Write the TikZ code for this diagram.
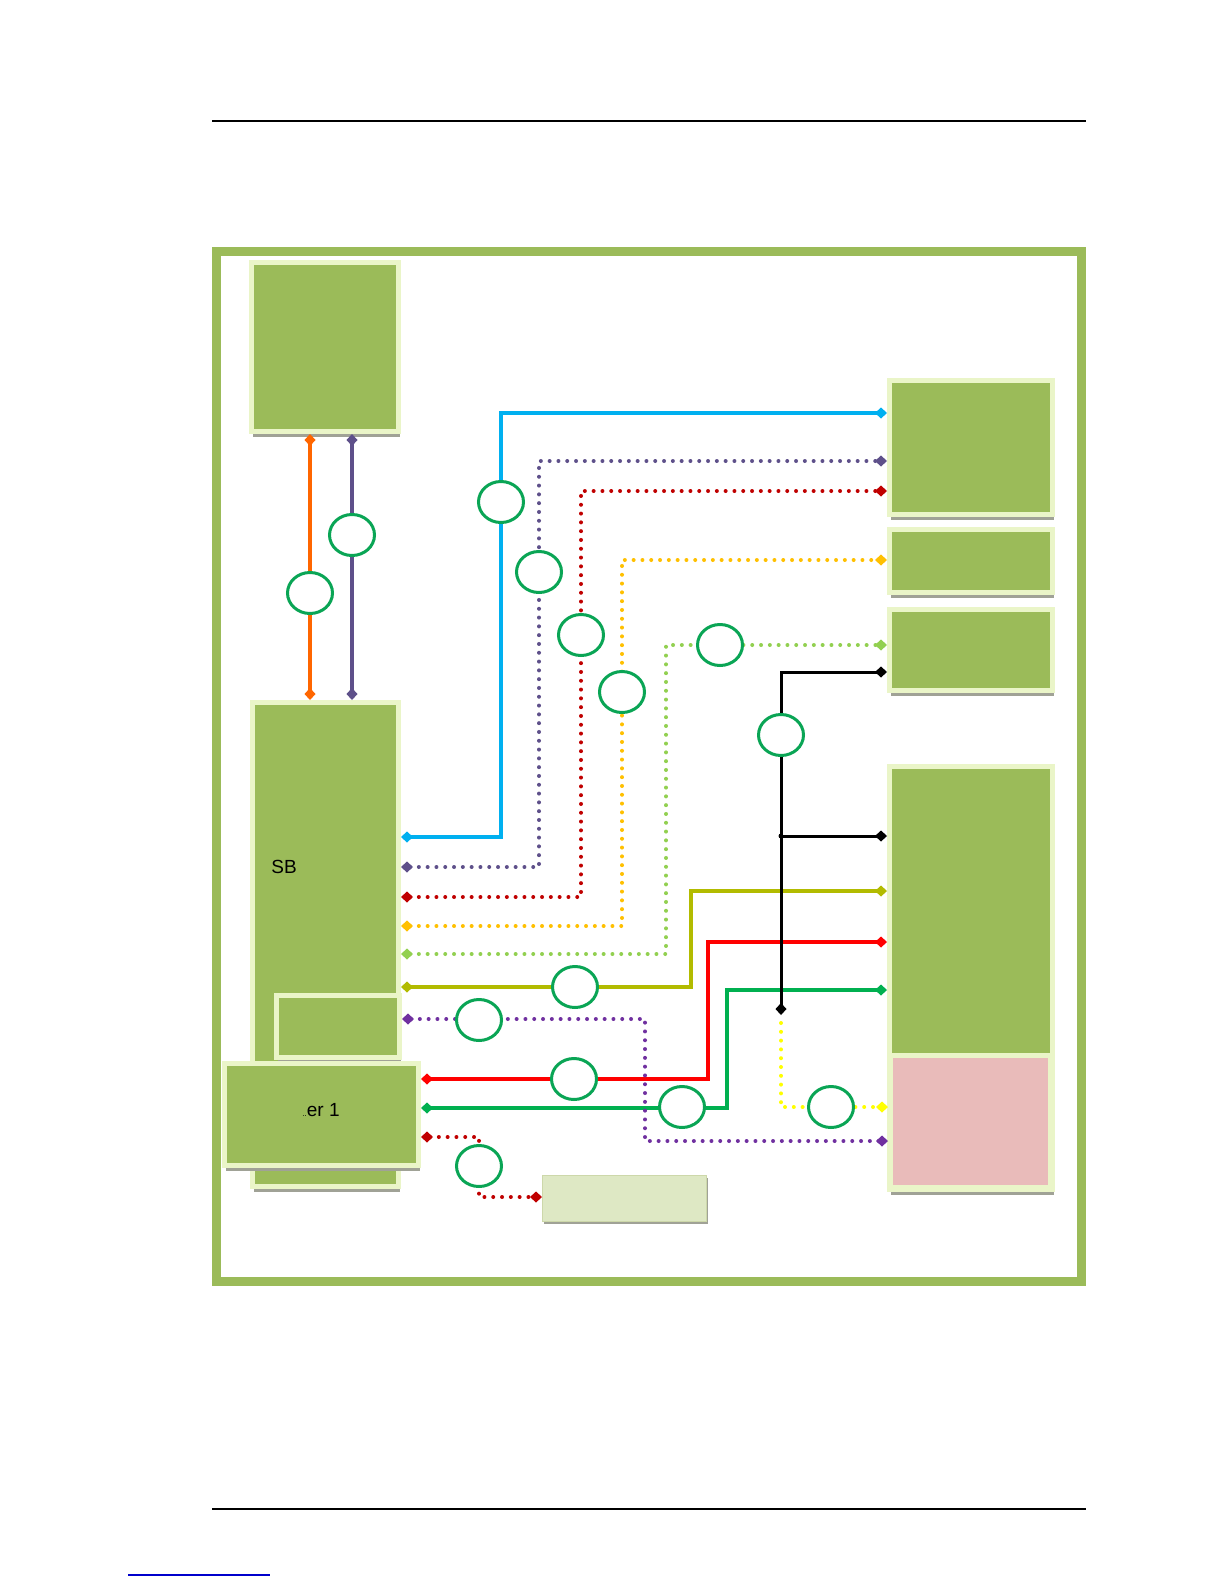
\documentclass[tikz,border=0pt]{standalone}
\usepackage{fontspec}
\setmainfont{Liberation Sans}
\usetikzlibrary{arrows.meta,shapes.geometric,shadows}

\definecolor{boxgreen}{RGB}{155,187,89}
\definecolor{rimgreen}{RGB}{234,245,200}
\definecolor{shadegray}{RGB}{160,162,150}
\definecolor{pinkfill}{RGB}{233,187,186}
\definecolor{ringgreen}{RGB}{10,165,85}
\definecolor{linkcyan}{RGB}{0,176,240}
\definecolor{linkslate}{RGB}{94,80,138}
\definecolor{linkdarkred}{RGB}{192,0,0}
\definecolor{linkamber}{RGB}{255,192,0}
\definecolor{linklime}{RGB}{146,208,80}
\definecolor{linkolive}{RGB}{178,187,0}
\definecolor{linkred}{RGB}{255,0,0}
\definecolor{linkgreen}{RGB}{0,176,80}
\definecolor{linkpurple}{RGB}{112,48,160}
\definecolor{linkyellow}{RGB}{255,255,0}
\definecolor{linkorange}{RGB}{255,102,0}
\definecolor{lbtop}{RGB}{222,232,196}
\definecolor{lbmid}{RGB}{243,247,234}
\definecolor{lbedge}{RGB}{205,216,170}

\pgfdeclarelayer{back}
\pgfdeclarelayer{mid}
\pgfsetlayers{back,mid,main}

\begin{document}
\begin{tikzpicture}[x=0.5pt,y=-0.5pt,
    box/.style={draw=rimgreen, fill=boxgreen, line width=2.5pt, inner sep=0pt,
      drop shadow={shadow xshift=0.8pt, shadow yshift=-2.8pt, fill=shadegray, opacity=1}},
    pinkbox/.style={draw=rimgreen, fill=pinkfill, line width=2.5pt, inner sep=0pt},
    lightbox/.style={draw=lbedge, line width=0.5pt, top color=lbtop, middle color=lbmid,
      bottom color=lbtop, inner sep=0pt,
      drop shadow={shadow xshift=0.8pt, shadow yshift=-1pt, fill=shadegray, opacity=1}},
    ring/.style={ellipse, draw=ringgreen, fill=white, line width=1.5pt, inner sep=0pt,
      minimum width=22.5pt, minimum height=20.5pt},
    lbl/.style={font=\fontsize{9.5}{11}\selectfont, inner sep=0pt},
    solidlink/.style={line width=2pt,
      {Diamond[length=6pt,width=5.5pt]}-{Diamond[length=6pt,width=5.5pt]}},
    dotlink/.style={line width=2pt, line cap=round, dash pattern=on 0pt off 4.4pt,
      {Diamond[length=6pt,width=5.5pt]}-{Diamond[length=6pt,width=5.5pt]}}]

  \begin{pgfonlayer}{back}
    \fill[white] (0,0) rectangle (1224,1584);
    % page frame
    \draw[boxgreen, line width=4.5pt] (216.5,251.5) rectangle (1081.5,1281.5);
    % left column
    \node[box, minimum width=73.5pt, minimum height=84.5pt] (top) at (325,347) {};
    \node[box, minimum width=73pt, minimum height=242pt] (sb) at (325.5,944.5) {};
    \node[box, minimum width=61.5pt, minimum height=31pt] (hub) at (338,1026.5) {};
    \node[box, minimum width=97pt, minimum height=51pt] (ctl) at (321.5,1114.5) {};
    % right column
    \node[box, minimum width=81.5pt, minimum height=67pt] (r1) at (971,447.5) {};
    \node[box, minimum width=81.5pt, minimum height=31.5pt] (r2) at (971,561) {};
    \node[box, minimum width=81.5pt, minimum height=40.5pt] (r3) at (971,650) {};
    \node[box, minimum width=81.5pt, minimum height=211.5pt] (big) at (971,978) {};
    \node[pinkbox, minimum width=80pt, minimum height=66pt] (pk) at (970.5,1121.5) {};
    \node[lightbox, minimum width=82pt, minimum height=23pt] (lb) at (624.5,1198.5) {};
  \end{pgfonlayer}

  \useasboundingbox (0,0) rectangle (1224,1584);

  % rules
  \draw[line width=0.8pt] (212,121) -- (1086,121);
  \draw[line width=0.8pt] (212,1509) -- (1086,1509);
  \draw[line width=0.8pt, blue!80!black] (128,1575) -- (270,1575);

  % texts
  \node[lbl, anchor=west] (sbname) at (271,867) {SB};
  \node[lbl] (ctlname) at (321,1110) {{\fontsize{4}{5}\selectfont..}er 1};

  \begin{pgfonlayer}{mid}
    % top box to sb
    \draw[solidlink, linkorange, line width=1.6pt] (top.south -| 310,0) -- (sb.north -| 310,0);
    \draw[solidlink, linkslate, line width=1.6pt] (top.south -| 352,0) -- (sb.north -| 352,0);
    % sb to right column
    \draw[solidlink, linkcyan] (sb.east |- 0,837) -| (501,413) -- (r1.west |- 0,413);
    \draw[dotlink, linkslate] (sb.east |- 0,867) -| (539,461) -- (r1.west |- 0,461);
    \draw[dotlink, linkdarkred] (sb.east |- 0,897) -| (581,491) -- (r1.west |- 0,491);
    \draw[dotlink, linkamber] (sb.east |- 0,926) -| (622,560) -- (r2.west |- 0,560);
    \draw[dotlink, linklime] (sb.east |- 0,954) -| (666,645) -- (r3.west |- 0,645);
    \draw[solidlink, linkolive, line width=1.7pt] (sb.east |- 0,987) -| (691,891) -- (big.west |- 0,891);
    % controller links
    \draw[solidlink, linkred] (ctl.east |- 0,1079) -| (708,942) -- (big.west |- 0,942);
    \draw[solidlink, linkgreen] (ctl.east |- 0,1108) -| (727,990) -- (big.west |- 0,990);
    \draw[dotlink, linkpurple] (hub.east |- 0,1019) -| (645,1141) -- (pk.west |- 0,1141);
    \draw[dotlink, linkdarkred] (ctl.east |- 0,1137) -| (479,1197) -- (lb.west |- 0,1197);
    % black bus
    \coordinate (drop) at (781,1015);
    \coordinate (tee) at (781,836);
    \draw[solidlink, black, line width=1.5pt] (r3.west |- 0,672) -| (drop);
    \draw[black, line width=1.5pt, -{Diamond[length=6pt,width=5.5pt]}] (tee) -- (big.west |- tee);
    \fill (tee) circle (2.5);
    \draw[dotlink, linkyellow, -{Diamond[length=6pt,width=5.5pt]}] (781,1023) |- (pk.west |- 0,1107);
  \end{pgfonlayer}

  % rings
  \node[ring] (c1) at (310,593) {};
  \node[ring] (c2) at (352,535) {};
  \node[ring] (c3) at (501,502) {};
  \node[ring] (c4) at (539,572) {};
  \node[ring] (c5) at (581,635) {};
  \node[ring] (c6) at (622,692) {};
  \node[ring] (c7) at (720,645) {};
  \node[ring] (c8) at (781,735) {};
  \node[ring] (c9) at (575,987) {};
  \node[ring] (c10) at (479,1020) {};
  \node[ring] (c11) at (574,1079) {};
  \node[ring] (c12) at (682,1107) {};
  \node[ring] (c13) at (831,1107) {};
  \node[ring] (c14) at (479,1166) {};
\end{tikzpicture}
\end{document}
